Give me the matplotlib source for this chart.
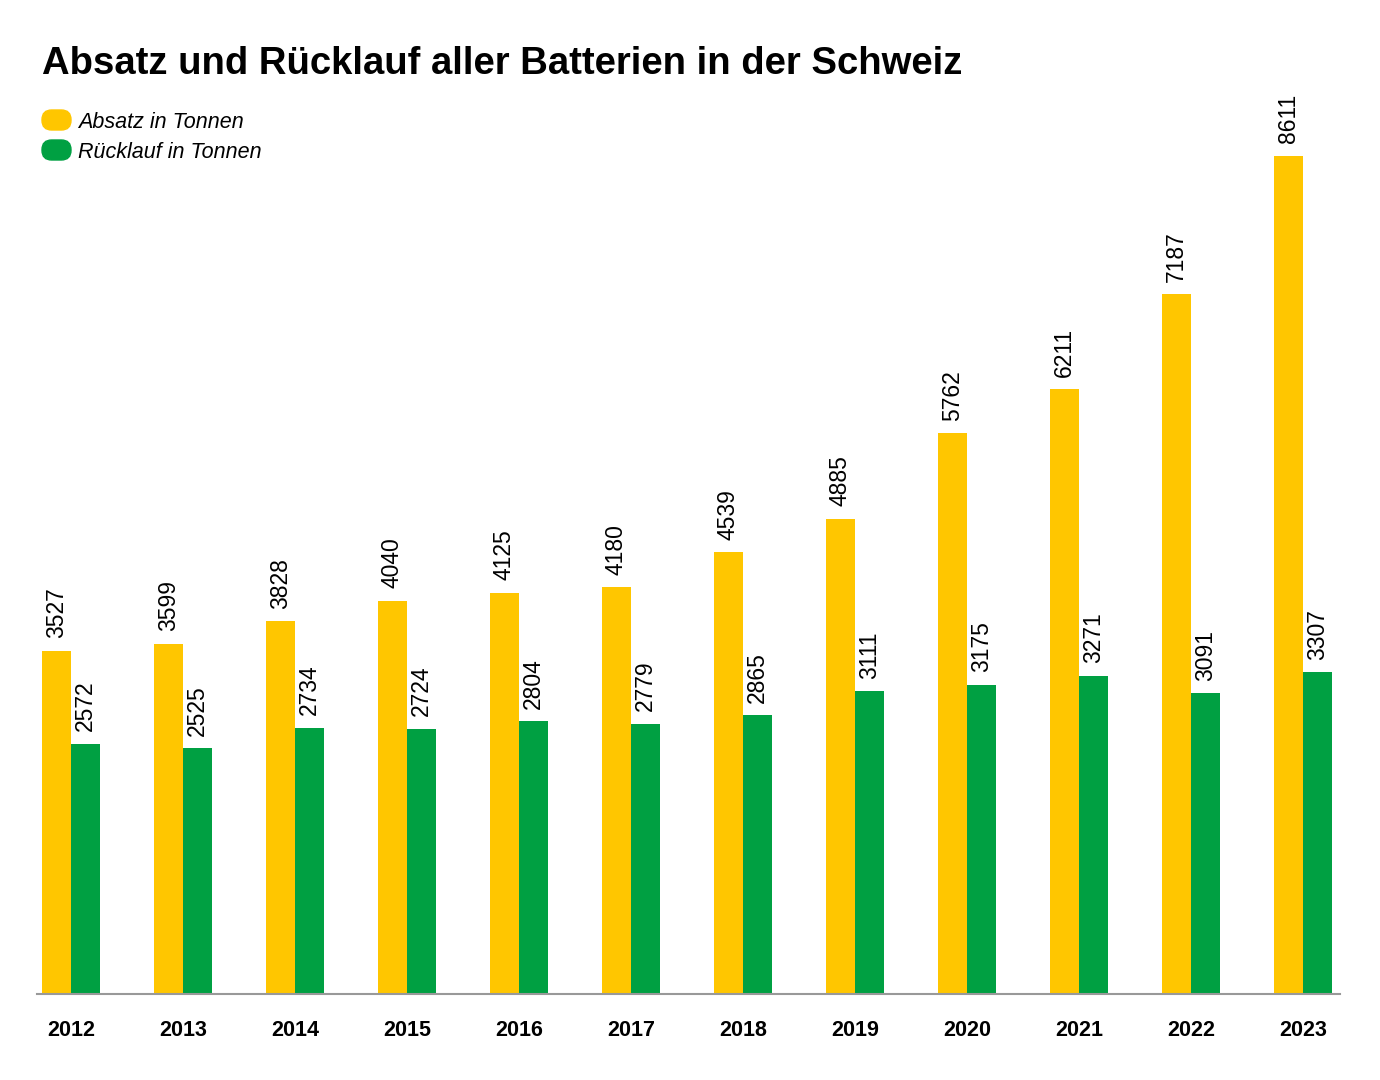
import matplotlib
matplotlib.use('Agg')
import matplotlib.pyplot as plt
from matplotlib.patches import FancyBboxPatch
import numpy as np

plt.rcParams['font.family'] = ['Liberation Sans', 'DejaVu Sans']

# Daten
jahre = ['2012', '2013', '2014', '2015', '2016', '2017',
         '2018', '2019', '2020', '2021', '2022', '2023']
absatz = [3527, 3599, 3828, 4040, 4125, 4180, 4539, 4885, 5762, 6211, 7187, 8611]
ruecklauf = [2572, 2525, 2734, 2724, 2804, 2779, 2865, 3111, 3175, 3271, 3091, 3307]
serien = ['Absatz in Tonnen', 'Rücklauf in Tonnen']

gelb = '#FFC600'
gruen = '#00A042'

fig = plt.figure(figsize=(13.8, 10.8), dpi=100)
ax = fig.add_axes([37 / 1380, 86 / 1080, 1303 / 1380, 876 / 1080])

x = np.arange(len(jahre))
breite = 0.26
b1 = ax.bar(x - breite / 2, absatz, breite, color=gelb)
b2 = ax.bar(x + breite / 2, ruecklauf, breite, color=gruen)

# Werte über den Balken, senkrecht
for balken, werte in ((b1, absatz), (b2, ruecklauf)):
    for r, v in zip(balken, werte):
        ax.annotate(str(v), (r.get_x() + r.get_width() / 2, r.get_height()),
                    xytext=(0, 9), textcoords='offset points',
                    rotation=90, ha='center', va='bottom', fontsize=16.5)

ax.set_xlim(-0.304, 11.33)
ax.set_ylim(0, 9000)
ax.set_xticks(x)
ax.set_xticklabels(jahre, fontsize=15.5, fontweight='bold')
ax.tick_params(axis='x', length=0, pad=19)
ax.set_yticks([])
for s in ['top', 'right', 'left']:
    ax.spines[s].set_visible(False)
ax.spines['bottom'].set_color('#999999')
ax.spines['bottom'].set_linewidth(1.5)

# Titel
fig.text(42 / 1380, 1 - 64 / 1080, 'Absatz und Rücklauf aller Batterien in der Schweiz',
         fontsize=27.5, fontweight='bold', va='center', ha='left')

# Legende mit abgerundeten Kästchen
for i, (name, farbe) in enumerate(zip(serien, [gelb, gruen])):
    yc = 1 - (120 + 30 * i) / 1080
    box = FancyBboxPatch((42 / 1380, yc - 10 / 1080), 29 / 1380, 20 / 1080,
                         boxstyle='round,pad=0,rounding_size=0.007',
                         transform=fig.transFigure, color=farbe,
                         mutation_aspect=1380 / 1080)
    fig.patches.append(box)
    fig.text(78 / 1380, yc - 2 / 1080, name, fontsize=15.5, style='italic',
             va='center', ha='left')

fig.savefig('out.png', dpi=100)
